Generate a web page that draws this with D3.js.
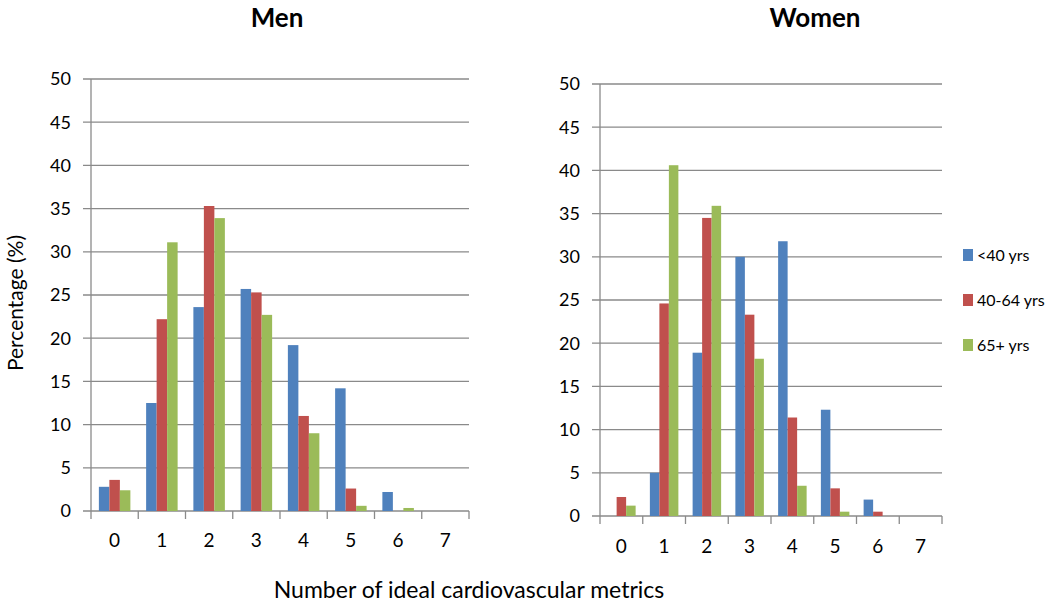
<!DOCTYPE html>
<html>
<head>
<meta charset="utf-8">
<script src="https://cdn.jsdelivr.net/npm/d3@7"></script>
<style>
  body { margin: 0; background: #fff; }
  text { font-family: Lato, "Open Sans", sans-serif; fill: #000; }
</style>
</head>
<body>
<div id="chart"></div>
<script>
var svgWidth = 1050;
var svgHeight = 607;

// Data
var categories = ["0", "1", "2", "3", "4", "5", "6", "7"];
var seriesNames = ["<40 yrs", "40-64 yrs", "65+ yrs"];
var seriesColors = ["#4F81BD", "#C0504D", "#9BBB59"];
var yTicks = [0, 5, 10, 15, 20, 25, 30, 35, 40, 45, 50];

var menUnder40 = [2.8, 12.5, 23.6, 25.7, 19.2, 14.2, 2.2, 0];
var men40to64 = [3.6, 22.2, 35.3, 25.3, 11.0, 2.6, 0, 0];
var men65plus = [2.4, 31.1, 33.9, 22.7, 9.0, 0.6, 0.35, 0];

var womenUnder40 = [0, 5.0, 18.9, 30.0, 31.8, 12.3, 1.9, 0];
var women40to64 = [2.2, 24.6, 34.5, 23.3, 11.4, 3.2, 0.5, 0];
var women65plus = [1.2, 40.6, 35.9, 18.2, 3.5, 0.5, 0, 0];

var svg = d3.select("#chart")
  .append("svg")
  .attr("width", svgWidth)
  .attr("height", svgHeight);

var gridColor = "#8A8A8A";

function drawPanel(title, values, box, titleX, xLabelY) {
  var width = box.right - box.left;
  var height = box.bottom - box.top;

  var g = svg.append("g")
    .attr("transform", `translate(${box.left}, ${box.top})`);

  var xScale = d3.scaleBand()
    .domain(categories)
    .range([0, width])
    .padding(0);

  // Excel style: gap width 150% of one bar
  var step = xScale.bandwidth();
  var gap = step / 3;
  var xInner = d3.scaleBand()
    .domain(seriesNames)
    .range([gap / 2, step - gap / 2])
    .padding(0);

  var yScale = d3.scaleLinear()
    .domain([0, 50])
    .range([height, 0]);

  // gridlines (with tick stubs to the left)
  g.selectAll(".grid")
    .data(yTicks)
    .enter()
    .append("line")
    .attr("x1", -8)
    .attr("x2", width)
    .attr("y1", d => yScale(d))
    .attr("y2", d => yScale(d))
    .attr("stroke", gridColor)
    .attr("stroke-width", 1.3);

  // y tick labels
  g.selectAll(".ylab")
    .data(yTicks)
    .enter()
    .append("text")
    .attr("x", -20)
    .attr("y", d => yScale(d))
    .attr("dy", "0.36em")
    .attr("text-anchor", "end")
    .style("font-size", "18px")
    .text(d => d);

  // vertical axis line
  g.append("line")
    .attr("x1", 0).attr("x2", 0)
    .attr("y1", 0).attr("y2", height)
    .attr("stroke", gridColor)
    .attr("stroke-width", 1.3);

  // x tick marks at category boundaries
  var bounds = categories.map(c => xScale(c)).concat([width]);
  g.selectAll(".xtick")
    .data(bounds)
    .enter()
    .append("line")
    .attr("x1", d => d).attr("x2", d => d)
    .attr("y1", height).attr("y2", height + 8)
    .attr("stroke", gridColor)
    .attr("stroke-width", 1.3);

  // bars
  values.forEach(function (vals, si) {
    g.selectAll(".bar" + si)
      .data(vals)
      .enter()
      .append("rect")
      .attr("x", (d, i) => xScale(categories[i]) + xInner(seriesNames[si]))
      .attr("y", d => yScale(d))
      .attr("width", xInner.bandwidth())
      .attr("height", d => height - yScale(d))
      .attr("fill", seriesColors[si]);
  });

  // x labels
  g.selectAll(".xlab")
    .data(categories)
    .enter()
    .append("text")
    .attr("x", d => xScale(d) + step / 2)
    .attr("y", xLabelY - box.top)
    .attr("text-anchor", "middle")
    .style("font-size", "19px")
    .text(d => d);

  // title
  svg.append("text")
    .attr("x", titleX)
    .attr("y", 27)
    .attr("text-anchor", "middle")
    .style("font-size", "26px")
    .style("font-weight", "bold")
    .text(title);
}

drawPanel("Men", [menUnder40, men40to64, men65plus],
  { left: 91, right: 469, top: 79, bottom: 511 }, 277, 547);

drawPanel("Women", [womenUnder40, women40to64, women65plus],
  { left: 600, right: 942, top: 84, bottom: 516 }, 815, 553);

// legend
var legend = svg.selectAll(".legend")
  .data(seriesNames)
  .enter()
  .append("g")
  .attr("transform", (d, i) => `translate(963, ${255 + i * 45})`);

legend.append("rect")
  .attr("x", 0)
  .attr("y", -6)
  .attr("width", 10)
  .attr("height", 12)
  .attr("fill", (d, i) => seriesColors[i]);

legend.append("text")
  .attr("x", 14)
  .attr("y", 0)
  .attr("dy", "0.36em")
  .style("font-size", "16px")
  .text(d => d);

// axis titles
svg.append("text")
  .attr("transform", "translate(23, 303) rotate(-90)")
  .attr("text-anchor", "middle")
  .style("font-size", "21px")
  .text("Percentage (%)");

svg.append("text")
  .attr("x", 469)
  .attr("y", 598)
  .attr("text-anchor", "middle")
  .style("font-size", "23px")
  .text("Number of ideal cardiovascular metrics");
</script>
</body>
</html>
